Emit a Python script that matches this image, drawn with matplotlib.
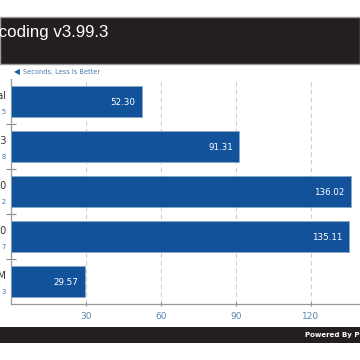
import matplotlib.pyplot as plt
from matplotlib.patches import Rectangle

# data
systems = ['Virtual', 'Xeon Gen 3', 'Core i7-3770 3.40', 'Core i7-4770 3.40', 'ARM']
details = ['SE +/- 0.05, N = 5', 'SE +/- 0.18, N = 8', 'SE +/- 0.12, N = 2',
           'SE +/- 0.07, N = 7', 'SE +/- 0.03, N = 3']
seconds = [52.30, 91.31, 136.02, 135.11, 29.57]
x_ticks = [30, 60, 90, 120]

bar_color = '#12529b'
tick_color = '#5b86b0'

fig = plt.figure(figsize=(3.6, 3.6), dpi=100)
W = H = 360.0

# header and footer bands
fig.patches.append(Rectangle((0, 1 - 64 / H), 1, 47 / H, transform=fig.transFigure,
                             facecolor='#231f20', edgecolor='#9a9a9a', linewidth=1.0))
fig.patches.append(Rectangle((0, 1 - 343 / H), 1, 16 / H, transform=fig.transFigure,
                             facecolor='#231f20', edgecolor='none'))
fig.text(108 / W, 1 - 32.5 / H, 'LAME MP3 Encoding v3.99.3', color='white',
         fontsize=12.2, ha='right', va='center', family='Liberation Sans')
fig.text(305 / W, 1 - 335 / H, 'Powered By Phoronix Test Suite', color='white',
         fontsize=5, ha='left', va='center', fontweight='bold')
fig.text(14 / W, 1 - 72 / H, '\u25c0', color='#1a5a9e', fontsize=5.5, ha='left', va='center')
fig.text(23 / W, 1 - 72 / H, 'Seconds, Less Is Better', color='#4a7ab0', fontsize=4.8,
         ha='left', va='center')

ax = fig.add_axes([11 / W, 56 / H, 350 / W, 225 / H])
ypos = list(range(len(seconds)))
ax.barh(ypos, seconds, height=0.71, color=bar_color, edgecolor='#8aa8c8', linewidth=0.6,
        zorder=3)
ax.set_xlim(0, 140)
ax.set_ylim(4.5, -0.5)

for y, v in zip(ypos, seconds):
    ax.text(v - 2.5, y + 0.02, f'{v:.2f}', color='white', fontsize=6.3,
            ha='right', va='center', zorder=4)

for y, name, det in zip(ypos, systems, details):
    ax.text(-0.013, y - 0.12, name, transform=ax.get_yaxis_transform(), ha='right',
            va='center', fontsize=7, color='#333333', clip_on=False)
    ax.text(-0.013, y + 0.24, det, transform=ax.get_yaxis_transform(), ha='right',
            va='center', fontsize=5, color='#4a7ab0', clip_on=False)

ax.set_xticks(x_ticks)
ax.set_xticklabels([str(t) for t in x_ticks])
ax.tick_params(axis='x', colors='#888888', labelcolor=tick_color, labelsize=6.5,
               length=3, direction='inout', pad=4)
ax.set_yticks([0.5, 1.5, 2.5, 3.5])
ax.set_yticklabels([])
ax.tick_params(axis='y', colors='#888888', length=6.5, direction='inout', width=0.8)
ax.grid(axis='x', linestyle=(0, (4, 3)), color='#cfcfcf', linewidth=0.8, zorder=0)

for side in ['top', 'right']:
    ax.spines[side].set_visible(False)
for side in ['left', 'bottom']:
    ax.spines[side].set_color('#999999')
    ax.spines[side].set_linewidth(0.9)

fig.savefig('out.png', dpi=100)
